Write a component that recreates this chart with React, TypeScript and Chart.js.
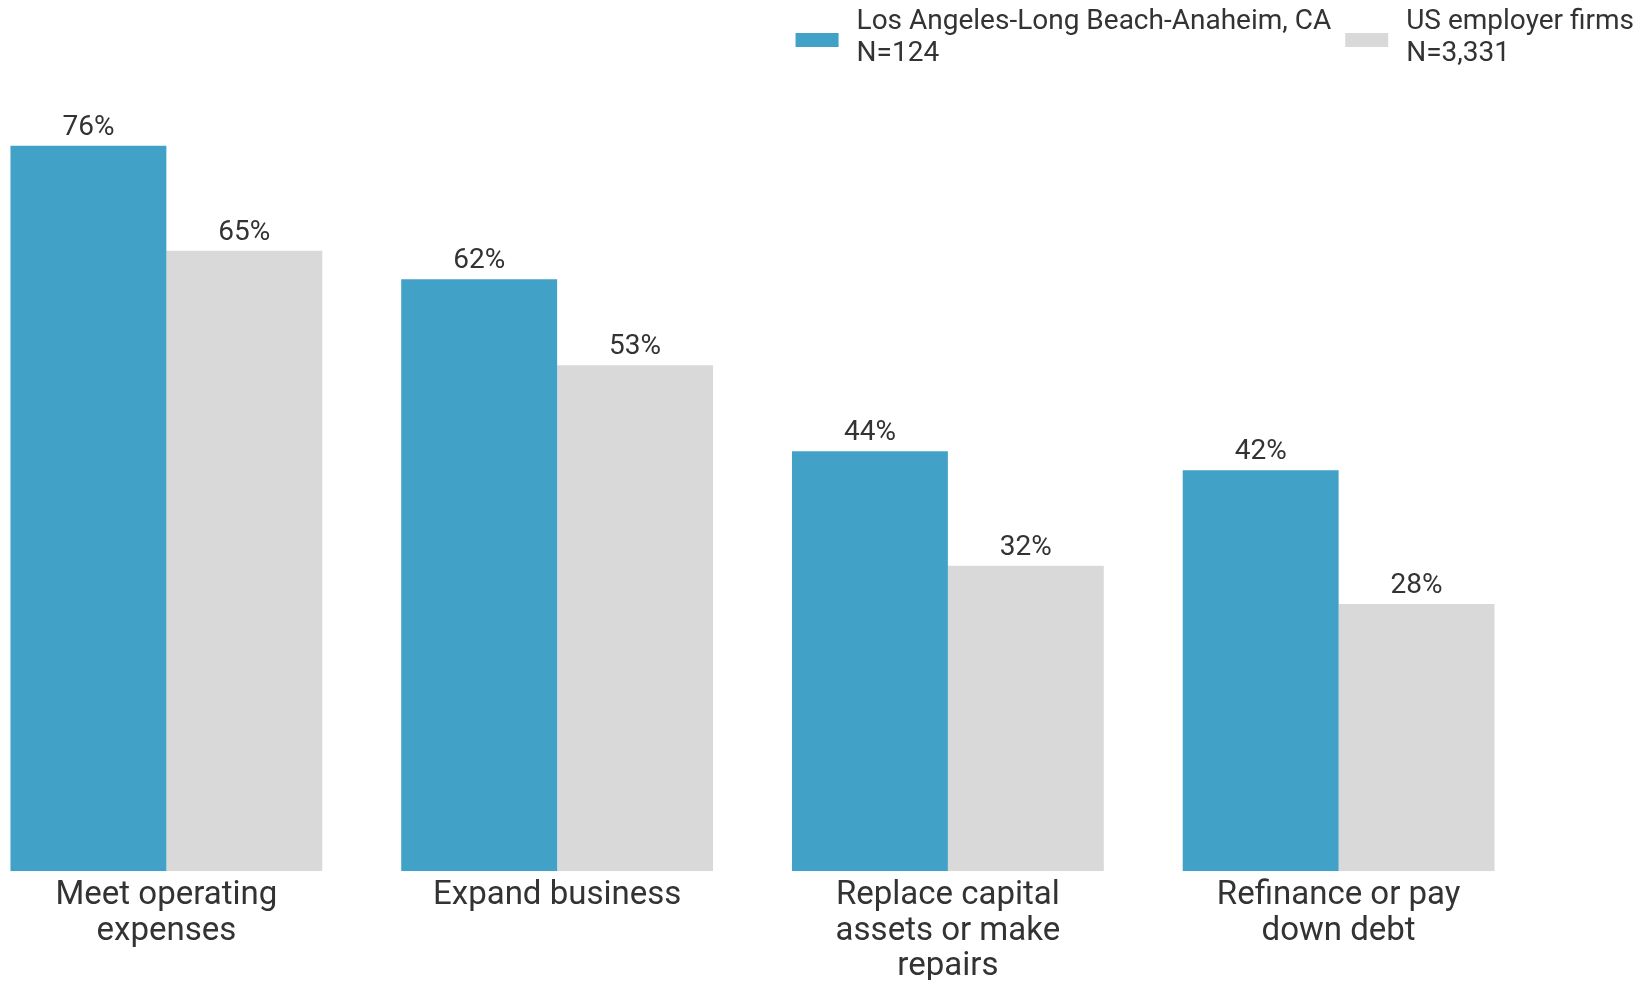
import React, { useEffect, useRef } from "react";
import { Chart, registerables } from "chart.js";

Chart.register(...registerables);

const categories: string[][] = [
  ["Meet operating", "expenses"],
  ["Expand business"],
  ["Replace capital", "assets or make", "repairs"],
  ["Refinance or pay", "down debt"],
];
const laValues = [76, 62, 44, 42];
const usValues = [65, 53, 32, 28];
const seriesNames: string[][] = [
  ["Los Angeles-Long Beach-Anaheim, CA", "N=124"],
  ["US employer firms", "N=3,331"],
];
const seriesColors = ["#42a1c6", "#d9d9d9"];

const FONT = "Roboto, 'Noto Sans', sans-serif";
const TEXT = "#333333";

const valueLabelPlugin = {
  id: "valueLabels",
  afterDatasetsDraw(chart: any) {
    const ctx = chart.ctx;
    ctx.save();
    ctx.font = `28px ${FONT}`;
    ctx.fillStyle = TEXT;
    ctx.textAlign = "center";
    ctx.textBaseline = "alphabetic";
    chart.data.datasets.forEach((ds: any, di: number) => {
      const meta = chart.getDatasetMeta(di);
      meta.data.forEach((bar: any, i: number) => {
        ctx.fillText(`${ds.data[i]}%`, bar.x, bar.y - 11);
      });
    });
    ctx.restore();
  },
};

const legendPlugin = {
  id: "customLegend",
  afterDraw(chart: any) {
    const ctx = chart.ctx;
    ctx.save();
    ctx.font = `28px ${FONT}`;
    ctx.textBaseline = "alphabetic";
    ctx.textAlign = "left";
    let x = chart.width - 8;
    const items = chart.data.datasets.map((ds: any) => ({
      lines: ds.legendLines as string[],
      color: ds.backgroundColor as string,
    }));
    for (let k = items.length - 1; k >= 0; k--) {
      const it = items[k];
      const w = Math.max(...it.lines.map((l: string) => ctx.measureText(l).width));
      const textX = x - w;
      const swX = textX - 18 - 43;
      ctx.fillStyle = it.color;
      ctx.fillRect(swX, 33, 43, 14);
      ctx.fillStyle = TEXT;
      it.lines.forEach((l: string, li: number) => {
        ctx.fillText(l, textX, 29 + li * 32);
      });
      x = swX - 14;
    }
    ctx.restore();
  },
};

export default function App() {
  const ref = useRef<HTMLCanvasElement | null>(null);
  useEffect(() => {
    if (!ref.current) return;
    const chart = new Chart(ref.current, {
      type: "bar",
      data: {
        labels: categories,
        datasets: [
          {
            label: seriesNames[0].join(" "),
            legendLines: seriesNames[0],
            data: laValues,
            backgroundColor: seriesColors[0],
            categoryPercentage: 0.798,
            barPercentage: 1,
          } as any,
          {
            label: seriesNames[1].join(" "),
            legendLines: seriesNames[1],
            data: usValues,
            backgroundColor: seriesColors[1],
            categoryPercentage: 0.798,
            barPercentage: 1,
          } as any,
        ],
      },
      options: {
        animation: false,
        responsive: true,
        maintainAspectRatio: false,
        layout: { padding: { top: 107.5, left: 11, right: 108, bottom: 2 } },
        plugins: {
          legend: { display: false },
          tooltip: { enabled: false },
          title: { display: false },
        },
        scales: {
          x: {
            grid: { display: false },
            border: { display: false },
            afterFit(scale: any) {
              scale.height = 108.7;
            },
            ticks: {
              autoSkip: false,
              maxRotation: 0,
              padding: -1,
              color: TEXT,
              font: { family: FONT, size: 33, lineHeight: 1.07 },
            },
          },
          y: {
            display: false,
            min: 0,
            max: 80,
          },
        },
      },
      plugins: [valueLabelPlugin, legendPlugin],
    });
    return () => chart.destroy();
  }, []);
  return (
    <div
      style={{
        position: "absolute",
        left: -40,
        top: 0,
        width: 1682,
        height: 982,
        background: "#ffffff",
      }}
    >
      <canvas ref={ref} />
    </div>
  );
}
